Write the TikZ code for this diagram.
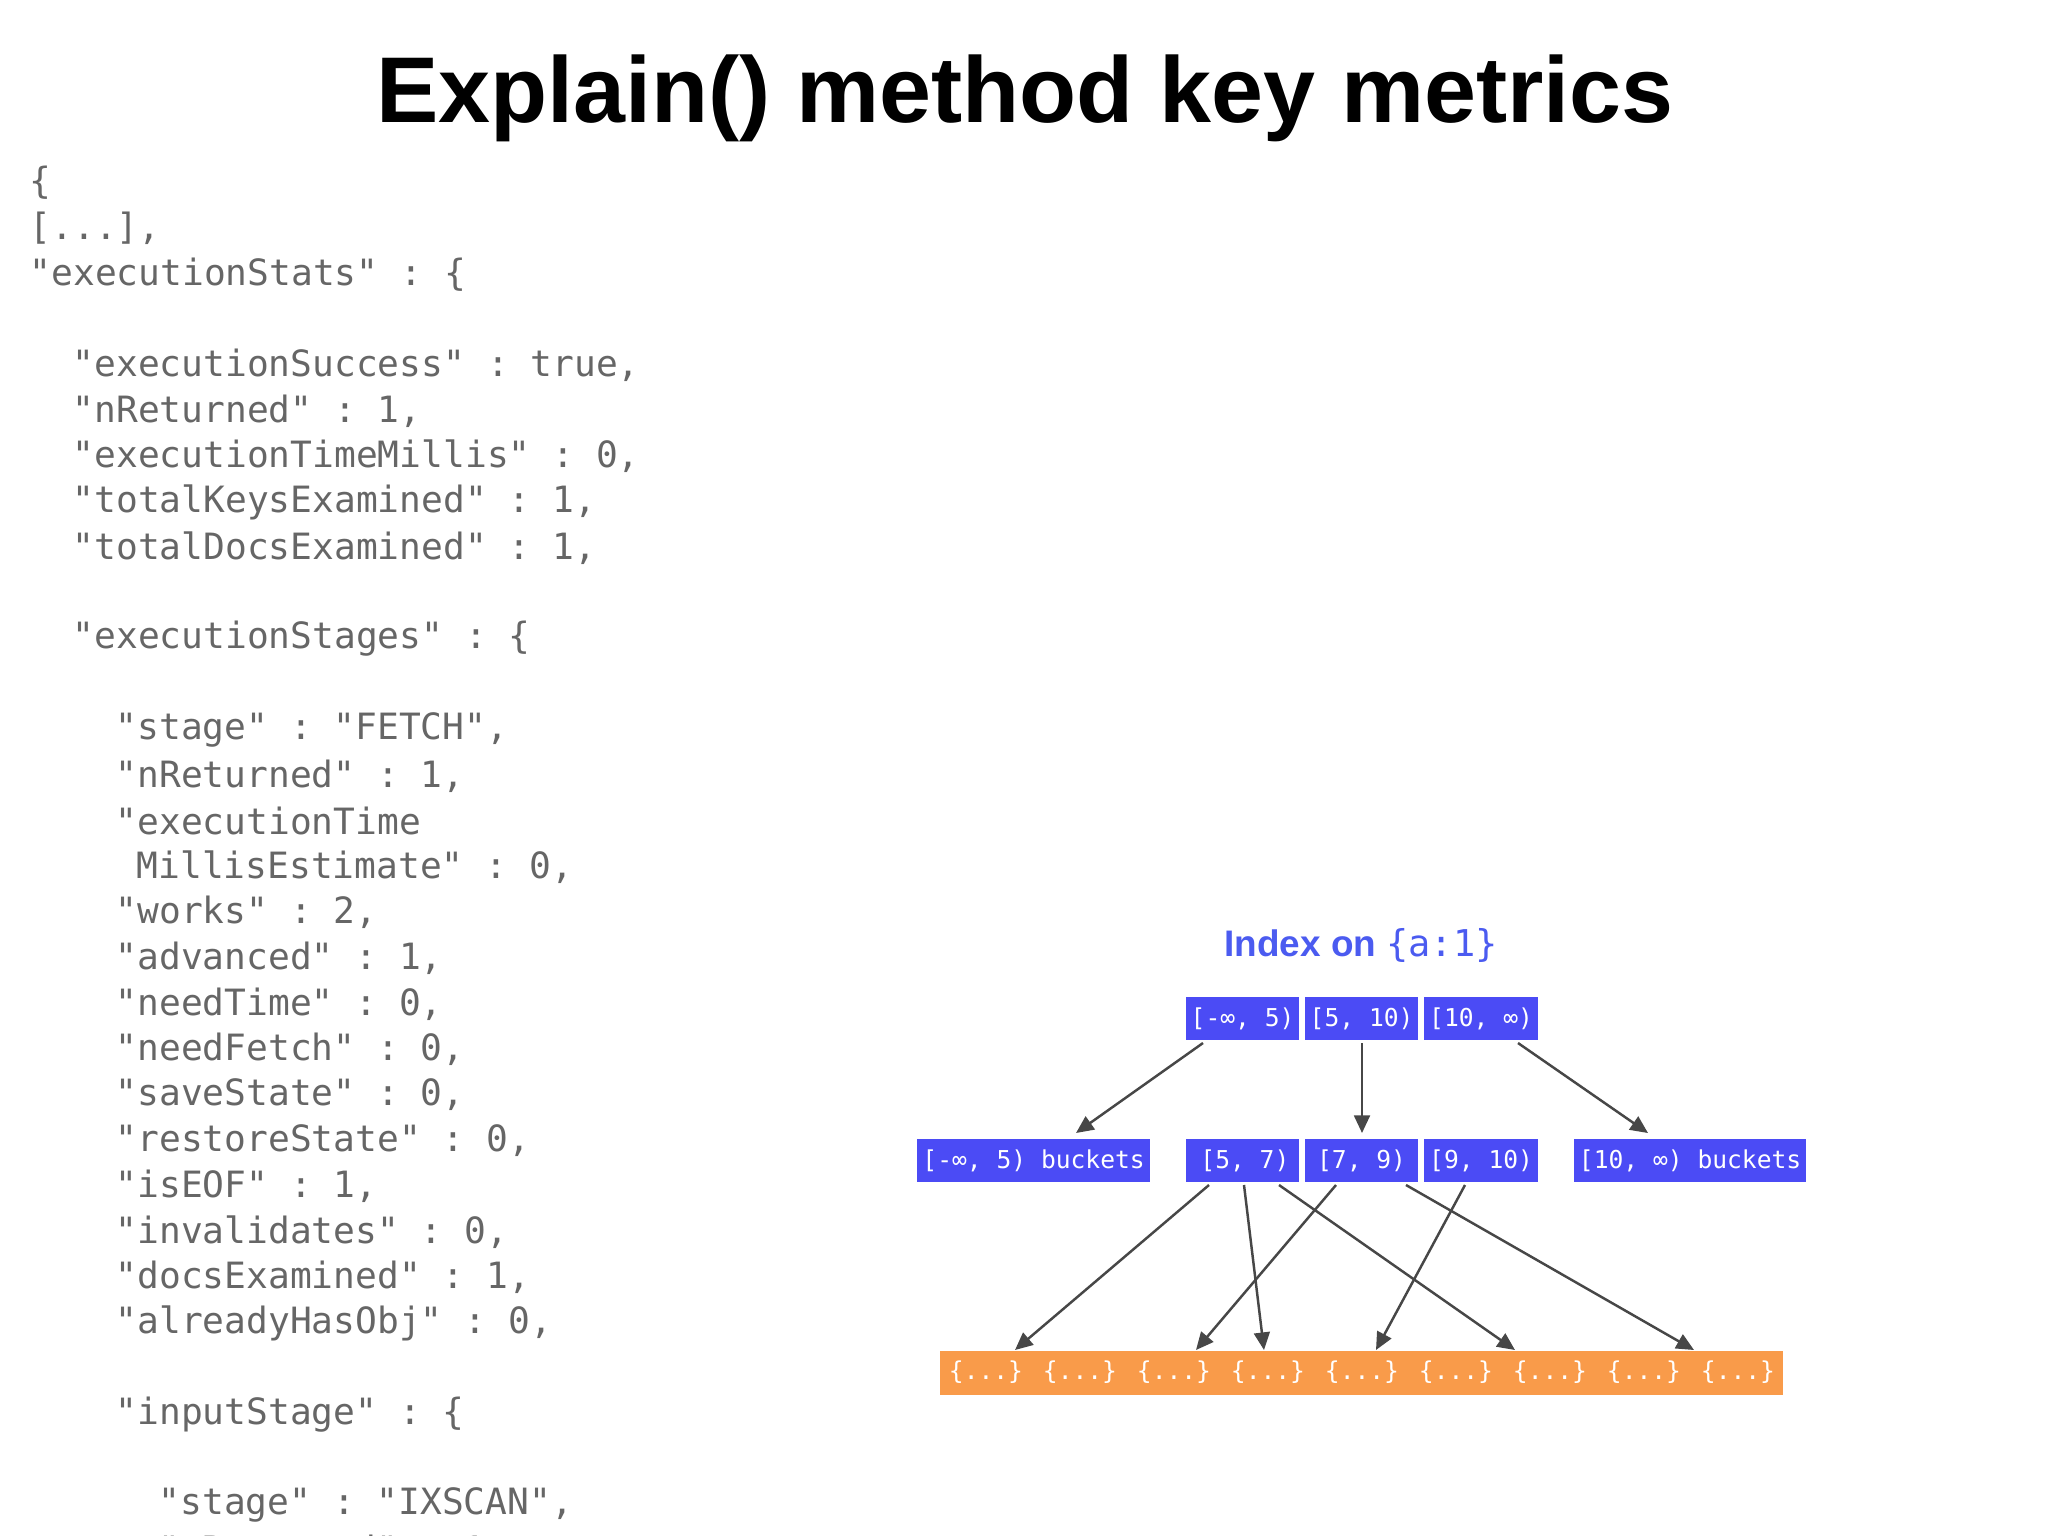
\documentclass[tikz,border=0pt]{standalone}
\usepackage{fontspec}
\setmainfont{Liberation Sans}
\setmonofont{DejaVu Sans Mono}
\usetikzlibrary{arrows.meta}
\definecolor{bbox}{HTML}{4B4BF5}
\definecolor{obox}{HTML}{F99B4A}
\definecolor{codegray}{HTML}{666666}
\definecolor{ttlblue}{HTML}{4B5BF0}
\tikzset{
 px/.style={x=0.01cm,y=-0.01cm},
 code/.style={anchor=west,inner sep=0,font=\fontsize{10.3}{12}\ttfamily,text=codegray},
 blue/.style={draw=white,line width=0.6pt,fill=bbox,inner sep=0,anchor=north west,minimum height=0.45cm},
 btxt/.style={text=white,font=\fontsize{7}{8}\ttfamily},
 arr/.style={draw=black!72,line width=0.7pt,-{Triangle[length=5pt,width=4.5pt]}}
}
\begin{document}
\begin{tikzpicture}[px]
\useasboundingbox (0,0) rectangle (2048,1536);
\node[font=\bfseries,anchor=center] (title) at (1025,98) {\resizebox{369pt}{!}{Explain() method key metrics}};
\begin{scope}
\clip (0,0) rectangle (2048,1536);
\foreach \t/\k/\x in {
 {\{}/0/29,
 {[...],}/1/29,
 {"executionStats" : \{}/2/29,
 {"executionSuccess" : true,}/4/72,
 {"nReturned" : 1,}/5/72,
 {"executionTimeMillis" : 0,}/6/72,
 {"totalKeysExamined" : 1,}/7/72,
 {"totalDocsExamined" : 1,}/8/72,
 {"executionStages" : \{}/10/72,
 {"stage" : "FETCH",}/12/115,
 {"nReturned" : 1,}/13/115,
 {"executionTime}/14/115,
 {MillisEstimate" : 0,}/15/136,
 {"works" : 2,}/16/115,
 {"advanced" : 1,}/17/115,
 {"needTime" : 0,}/18/115,
 {"needFetch" : 0,}/19/115,
 {"saveState" : 0,}/20/115,
 {"restoreState" : 0,}/21/115,
 {"isEOF" : 1,}/22/115,
 {"invalidates" : 0,}/23/115,
 {"docsExamined" : 1,}/24/115,
 {"alreadyHasObj" : 0,}/25/115,
 {"inputStage" : \{}/27/115,
 {"stage" : "IXSCAN",}/29/158,
 {"nReturned" : 1,}/30/158}
 {\node[code] (c\k) at (\x,183+\k*45.6) {\t};}
\end{scope}
\node[text=ttlblue,font=\fontsize{10.5}{12}\bfseries] (idx) at (1361,945) {Index on {\ttfamily\mdseries\{a:1\}}};
% top row
\node[blue,minimum width=1.15cm] (t1) at (1184,995) {};
\node[blue,minimum width=1.15cm] (t2) at (1303,995) {};
\node[blue,minimum width=1.16cm] (t3) at (1422,995) {};
\node[btxt] at (t1) {[-∞, 5)};
\node[btxt] at (t2) {[5, 10)};
\node[btxt] at (t3) {[10, ∞)};
% second row
\node[blue,minimum width=2.35cm] (b0) at (915,1137) {};
\node[btxt] at (b0) {[-∞, 5) buckets};
\node[blue,minimum width=1.15cm] (m1) at (1184,1137) {};
\node[blue,minimum width=1.15cm] (m2) at (1303,1137) {};
\node[blue,minimum width=1.16cm] (m3) at (1422,1137) {};
\node[btxt,anchor=west] at ([xshift=0.04cm]m1.west) {[5, 7)};
\node[btxt] at (m2) {[7, 9)};
\node[btxt] at (m3) {[9, 10)};
\node[blue,minimum width=2.34cm] (b4) at (1572,1137) {};
\node[btxt] at (b4) {[10, ∞) buckets};
% orange
\node[draw=white,fill=obox,anchor=north west,minimum width=8.43cm,minimum height=0.45cm,inner sep=0] (docs) at (939,1350) {};
\foreach \i in {0,...,8}{
 \node[btxt] (d\i) at (986+\i*94,1372) {\{...\}};}
% arrows top
\coordinate (a1s) at (1203,1043); \coordinate (a1e) at (1076,1133);
\coordinate (a2s) at (1362,1043); \coordinate (a2e) at (1362,1133);
\coordinate (a3s) at (1518,1043); \coordinate (a3e) at (1648,1133);
\draw[arr] (a1s) -- (a1e);
\draw[arr] (a2s) -- (a2e);
\draw[arr] (a3s) -- (a3e);
% arrows lower
\foreach \s/\e in {1209/1015,1244/1264,1279/1515,1336/1196,1406/1694,1465/1376}
 {\coordinate (s\s) at (\s,1185); \coordinate (e\s) at (\e,1350); \draw[arr] (s\s) -- (e\s);}
\end{tikzpicture}
\end{document}
